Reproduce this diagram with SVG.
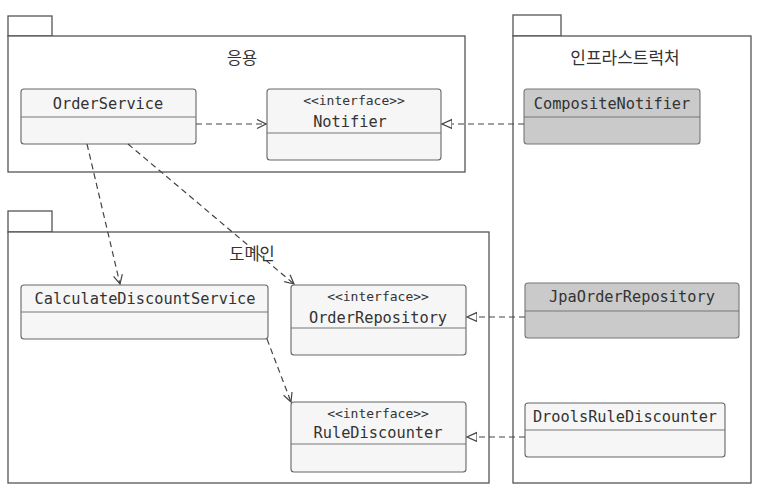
<svg xmlns="http://www.w3.org/2000/svg" width="766" height="498" viewBox="0 0 766 498">
<style>
.pkg{fill:#ffffff;stroke:#555;stroke-width:1.3}
.cls{fill:#f6f6f6;stroke:#666;stroke-width:1.1}
.gray{fill:#cacaca;stroke:#777;stroke-width:1.1}
.div{stroke:#777;stroke-width:1}
.t{font-family:"DejaVu Sans Mono","Liberation Mono",monospace;font-size:15.3px;fill:#333;text-anchor:middle}
.s{font-family:"DejaVu Sans Mono","Liberation Mono",monospace;font-size:13px;fill:#333;text-anchor:middle}
.k{font-family:"Noto Sans CJK KR","Noto Sans",sans-serif;font-size:16.5px;fill:#333;text-anchor:middle}
.dep{fill:none;stroke:#444;stroke-width:1.2;stroke-dasharray:6,4}
</style>
<defs>
<marker id="open" markerWidth="11" markerHeight="11" refX="10" refY="5" orient="auto" markerUnits="userSpaceOnUse">
<path d="M1,0.5 L10,5 L1,9.5" fill="none" stroke="#444" stroke-width="1.2"/>
</marker>
<marker id="tri" markerWidth="12" markerHeight="12" refX="10" refY="5" orient="auto" markerUnits="userSpaceOnUse">
<path d="M0,0.5 L10,5 L0,9.5 Z" fill="#fff" stroke="#444" stroke-width="1.2"/>
</marker>
</defs>

<g id="pkg-app">
<rect class="pkg" x="8" y="16" width="44" height="20"/>
<rect class="pkg" x="8" y="36" width="457" height="136"/>
<text class="k" x="242" y="64">응용</text>
</g>

<g id="pkg-domain">
<rect class="pkg" x="8" y="211" width="44" height="21"/>
<rect class="pkg" x="8" y="232" width="481" height="251"/>
<text class="k" x="252" y="260">도메인</text>
</g>

<g id="pkg-infra">
<rect class="pkg" x="513" y="15" width="48" height="21"/>
<rect class="pkg" x="513" y="36" width="238" height="447"/>
<text class="k" x="625" y="64" style="font-size:17px">인프라스트럭처</text>
</g>

<g id="OrderService">
<rect class="cls" x="21" y="89" width="175" height="55" rx="3"/>
<line class="div" x1="21" y1="117" x2="196" y2="117"/>
<text class="t" x="108" y="109">OrderService</text>
</g>

<g id="Notifier">
<rect class="cls" x="267" y="89" width="174" height="71" rx="3"/>
<line class="div" x1="267" y1="133" x2="441" y2="133"/>
<text class="s" x="354" y="105">&lt;&lt;interface&gt;&gt;</text>
<text class="t" x="350" y="127">Notifier</text>
</g>

<g id="CompositeNotifier">
<rect class="gray" x="524" y="89" width="176" height="55" rx="3"/>
<line class="div" x1="524" y1="117" x2="700" y2="117"/>
<text class="t" x="612" y="109">CompositeNotifier</text>
</g>

<g id="CalculateDiscountService">
<rect class="cls" x="21" y="285" width="247" height="54" rx="3"/>
<line class="div" x1="21" y1="312" x2="268" y2="312"/>
<text class="t" x="145" y="304">CalculateDiscountService</text>
</g>

<g id="OrderRepository">
<rect class="cls" x="291" y="285" width="175" height="70" rx="3"/>
<line class="div" x1="291" y1="328" x2="466" y2="328"/>
<text class="s" x="378" y="301">&lt;&lt;interface&gt;&gt;</text>
<text class="t" x="378" y="323">OrderRepository</text>
</g>

<g id="RuleDiscounter">
<rect class="cls" x="291" y="402" width="175" height="70" rx="3"/>
<line class="div" x1="291" y1="444" x2="466" y2="444"/>
<text class="s" x="378" y="418">&lt;&lt;interface&gt;&gt;</text>
<text class="t" x="378" y="438">RuleDiscounter</text>
</g>

<g id="JpaOrderRepository">
<rect class="gray" x="525" y="283" width="214" height="55" rx="3"/>
<line class="div" x1="525" y1="311" x2="739" y2="311"/>
<text class="t" x="632" y="302">JpaOrderRepository</text>
</g>

<g id="DroolsRuleDiscounter">
<rect class="cls" x="525" y="403" width="200" height="54" rx="3"/>
<line class="div" x1="525" y1="430" x2="725" y2="430"/>
<text class="t" x="625" y="422">DroolsRuleDiscounter</text>
</g>

<g id="connectors">
<line class="dep" x1="196" y1="124" x2="266" y2="124" marker-end="url(#open)"/>
<line class="dep" x1="524" y1="124" x2="442" y2="124" marker-end="url(#tri)"/>
<line class="dep" x1="87" y1="144" x2="120" y2="284" marker-end="url(#open)"/>
<line class="dep" x1="128" y1="144" x2="294" y2="284" marker-end="url(#open)"/>
<line class="dep" x1="267" y1="339" x2="291" y2="402" marker-end="url(#open)"/>
<line class="dep" x1="525" y1="317" x2="467" y2="317" marker-end="url(#tri)"/>
<line class="dep" x1="525" y1="437" x2="467" y2="437" marker-end="url(#tri)"/>
</g>
</svg>
